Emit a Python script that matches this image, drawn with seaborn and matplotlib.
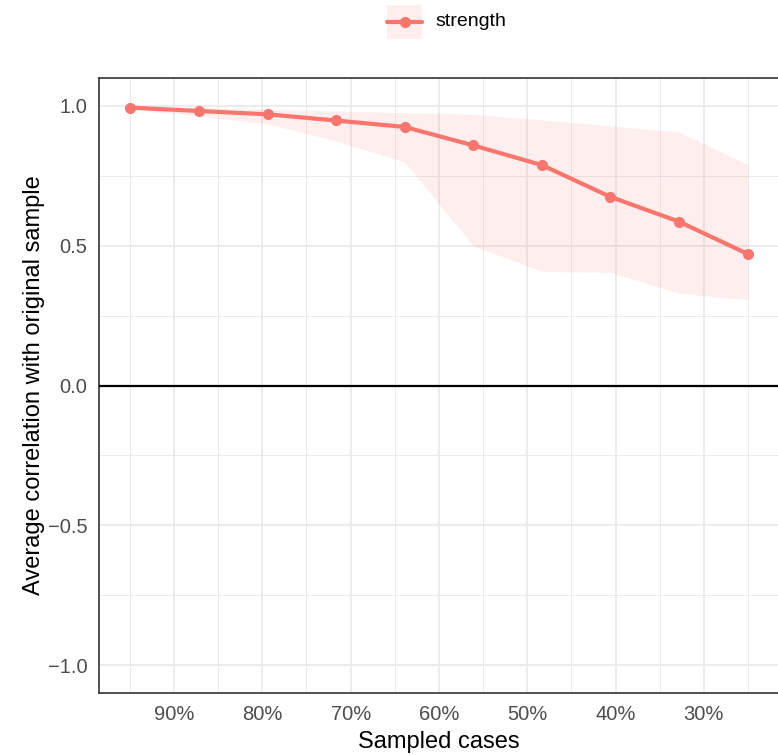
import matplotlib
matplotlib.use("Agg")
import matplotlib.pyplot as plt
import seaborn as sns
import pandas as pd
from matplotlib.lines import Line2D
from matplotlib.patches import Rectangle
from matplotlib.ticker import FixedLocator, FuncFormatter

# data
sampled = [0.95, 0.872, 0.794, 0.717, 0.639, 0.561, 0.483, 0.406, 0.328, 0.25]
mean_cor = [0.994, 0.982, 0.970, 0.948, 0.925, 0.859, 0.788, 0.675, 0.586, 0.470]
upper_cor = [0.999, 0.993, 0.988, 0.982, 0.976, 0.970, 0.950, 0.929, 0.907, 0.790]
lower_cor = [0.988, 0.964, 0.936, 0.875, 0.800, 0.500, 0.408, 0.405, 0.330, 0.307]
series = "strength"
x_ticks = [0.9, 0.8, 0.7, 0.6, 0.5, 0.4, 0.3]
y_ticks = [-1.0, -0.5, 0.0, 0.5, 1.0]

df = pd.DataFrame({"sampled": sampled, "cor": mean_cor, "type": series})

sns.set_style("white")
plt.rcParams["font.family"] = ["Liberation Sans", "DejaVu Sans"]

col = "#F8766D"
fig = plt.figure(figsize=(7.78, 7.55), dpi=100)
ax = fig.add_axes([0.1272, 0.0821, 0.8740, 0.8146])

ax.fill_between(sampled, lower_cor, upper_cor, color=col, alpha=0.12, linewidth=0, zorder=2)
sns.lineplot(data=df, x="sampled", y="cor", ax=ax, color=col, linewidth=3.0,
             marker="o", markersize=8, markeredgewidth=0, legend=False, zorder=4)
ax.axhline(0, color="black", linewidth=1.6, zorder=3)

ax.set_xlim(0.985, 0.215)
ax.set_ylim(-1.1, 1.1)
ax.xaxis.set_major_locator(FixedLocator(x_ticks))
ax.xaxis.set_minor_locator(FixedLocator([0.95, 0.85, 0.75, 0.65, 0.55, 0.45, 0.35, 0.25]))
ax.yaxis.set_major_locator(FixedLocator(y_ticks))
ax.yaxis.set_minor_locator(FixedLocator([-0.75, -0.25, 0.25, 0.75]))
ax.xaxis.set_major_formatter(FuncFormatter(lambda v, p: f"{round(v*100)}%"))
ax.yaxis.set_major_formatter(FuncFormatter(lambda v, p: f"{v:.1f}".replace("-", "\u2212")))

ax.grid(which="major", color="#EBEBEB", linewidth=1.3, zorder=0)
ax.grid(which="minor", color="#EBEBEB", linewidth=0.7, zorder=0)
ax.set_axisbelow(True)
for s in ax.spines.values():
    s.set_color("#333333")
    s.set_linewidth(1.2)
ax.tick_params(which="major", axis="both", length=4.5, width=1.2, color="#333333",
               labelcolor="#4D4D4D", labelsize=14.5, pad=4)
ax.tick_params(which="minor", length=0)

ax.set_xlabel("Sampled cases", fontsize=17, color="black", labelpad=5)
ax.set_ylabel("Average correlation with original sample", fontsize=17, color="black", labelpad=1.5)

# legend (drawn in figure coordinates)
kx0, kw = 387 / 778, 35 / 778
ky0, kh = 1 - 39 / 755, 34 / 755
kyc = ky0 + kh / 2
fig.patches.append(Rectangle((kx0, ky0), kw, kh, transform=fig.transFigure,
                             facecolor=col, alpha=0.12, edgecolor="none"))
fig.lines.append(Line2D([kx0, kx0 + kw], [kyc, kyc], transform=fig.transFigure,
                        color=col, linewidth=3.0))
fig.lines.append(Line2D([kx0 + kw / 2], [kyc], transform=fig.transFigure, color=col,
                        marker="o", markersize=8, markeredgewidth=0, linestyle="none"))
fig.text(435 / 778, kyc, series, fontsize=14, color="black", ha="left", va="center")

fig.savefig("out.png", dpi=100)
